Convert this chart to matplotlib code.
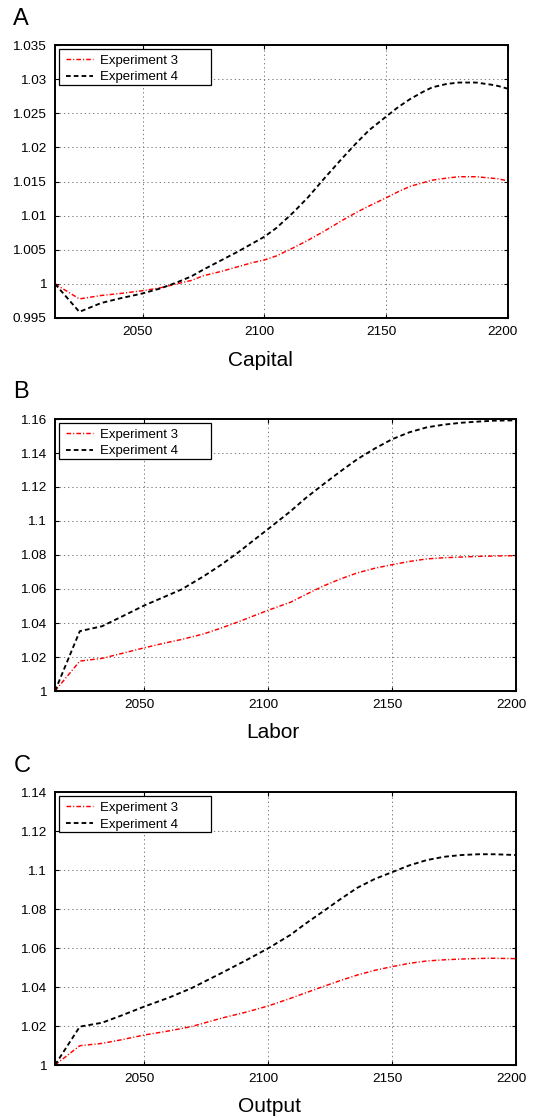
import matplotlib
matplotlib.use("Agg")
import matplotlib.pyplot as plt
import matplotlib.transforms as mtransforms
from matplotlib.patches import Rectangle
from matplotlib.ticker import FuncFormatter, FixedLocator

plt.rcParams['font.family'] = ['Liberation Sans', 'DejaVu Sans']
plt.rcParams['lines.scale_dashes'] = False

# ---------------- data ----------------
labels = ["Experiment 3", "Experiment 4"]
panel_letters = ["A", "B", "C"]
panel_titles = ["Capital", "Labor", "Output"]

cap_years = [2014, 2024, 2033, 2041, 2050, 2057, 2064, 2070, 2075, 2082, 2089, 2095, 2100, 2105,
             2112, 2118, 2125, 2132, 2138, 2143, 2150, 2155, 2160, 2165, 2169, 2175, 2180, 2187,
             2193, 2196, 2200]
cap_exp3 = [1.0000, 0.9978, 0.9983, 0.9986, 0.9990, 0.9994, 1.0000, 1.0005, 1.0012, 1.0018, 1.0025,
            1.0031, 1.0035, 1.0041, 1.0053, 1.0064, 1.0078, 1.0093, 1.0105, 1.0114, 1.0126, 1.0135,
            1.0143, 1.0148, 1.0152, 1.0155, 1.0157, 1.0157, 1.0155, 1.0154, 1.0151]
cap_exp4 = [1.0000, 0.9959, 0.9972, 0.9979, 0.9986, 0.9993, 1.0002, 1.0011, 1.0021, 1.0034, 1.0047,
            1.0059, 1.0069, 1.0082, 1.0105, 1.0127, 1.0156, 1.0184, 1.0207, 1.0225, 1.0245, 1.0259,
            1.0271, 1.0281, 1.0288, 1.0293, 1.0295, 1.0295, 1.0292, 1.0290, 1.0286]

lab_years = [2014, 2024, 2033, 2041, 2050, 2058, 2065, 2074, 2081, 2088, 2094, 2100, 2109, 2115,
             2122, 2129, 2136, 2143, 2150, 2157, 2164, 2171, 2178, 2185, 2191, 2200]
lab_exp3 = [1.0000, 1.0176, 1.0192, 1.0221, 1.0254, 1.0281, 1.0303, 1.0336, 1.0370, 1.0407, 1.0441,
            1.0475, 1.0522, 1.0566, 1.0616, 1.0658, 1.0695, 1.0722, 1.0743, 1.0762, 1.0777, 1.0784,
            1.0788, 1.0792, 1.0794, 1.0796]
lab_exp4 = [1.0000, 1.0352, 1.0381, 1.0438, 1.0503, 1.0553, 1.0597, 1.0675, 1.0742, 1.0816, 1.0885,
            1.0953, 1.1057, 1.1133, 1.1213, 1.1290, 1.1364, 1.1426, 1.1481, 1.1522, 1.1551, 1.1567,
            1.1578, 1.1585, 1.1590, 1.1592]

out_years = [2014, 2024, 2033, 2041, 2050, 2060, 2069, 2081, 2091, 2100, 2109, 2115, 2122, 2129,
             2136, 2143, 2150, 2157, 2164, 2171, 2178, 2185, 2191, 2200]
out_exp3 = [1.0000, 1.0099, 1.0111, 1.0130, 1.0154, 1.0175, 1.0197, 1.0240, 1.0271, 1.0303, 1.0342,
            1.0370, 1.0402, 1.0433, 1.0462, 1.0486, 1.0505, 1.0522, 1.0534, 1.0540, 1.0544, 1.0547,
            1.0548, 1.0546]
out_exp4 = [1.0000, 1.0197, 1.0217, 1.0255, 1.0300, 1.0346, 1.0394, 1.0471, 1.0537, 1.0599, 1.0668,
            1.0725, 1.0787, 1.0850, 1.0910, 1.0955, 1.0990, 1.1025, 1.1052, 1.1069, 1.1078, 1.1082,
            1.1082, 1.1078]

x_ticks = [2050, 2100, 2150, 2200]
cap_yticks = [0.995, 1.0, 1.005, 1.01, 1.015, 1.02, 1.025, 1.03, 1.035]
lab_yticks = [1.0, 1.02, 1.04, 1.06, 1.08, 1.1, 1.12, 1.14, 1.16]
out_yticks = [1.0, 1.02, 1.04, 1.06, 1.08, 1.1, 1.12, 1.14]

panels = [
    (cap_years, cap_exp3, cap_exp4, cap_yticks),
    (lab_years, lab_exp3, lab_exp4, lab_yticks),
    (out_years, out_exp3, out_exp4, out_yticks),
]

# ---------------- layout ----------------
W, H = 535, 1118
fig = plt.figure(figsize=(W / 100, H / 100), dpi=100)

# axes boxes in pixels (left, top, right, bottom)
boxes = [(55, 45, 507.7, 318), (55, 419, 516, 691), (55, 792.3, 516, 1065)]
letter_pos = [(13.3, 25), (13.6, 398), (13.3, 772.5)]
xlabel_pos = [(260.6, 366.5), (272.5, 738), (269.8, 1112.5)]

def fmt(v, pos):
    return ('%.3f' % v).rstrip('0').rstrip('.')

for i, (yrs, e3, e4, yt) in enumerate(panels):
    l, t, r, b = boxes[i]
    ax = fig.add_axes([l / W, 1 - b / H, (r - l) / W, (b - t) / H])
    ax.plot(yrs, e3, color='#ff0000', lw=1.05, dashes=(3.3, 1.5, 0.8, 1.5), label=labels[0])
    ax.plot(yrs, e4, color='black', lw=1.35, dashes=(3.4, 2.2), label=labels[1])
    ax.set_xlim(2014, 2200)
    ax.set_ylim(yt[0], yt[-1])
    ax.xaxis.set_major_locator(FixedLocator(x_ticks))
    ax.yaxis.set_major_locator(FixedLocator(yt))
    ax.yaxis.set_major_formatter(FuncFormatter(fmt))
    ax.grid(True, color='0.5', lw=0.7, linestyle=(0, (1, 2)))
    ax.tick_params(direction='in', length=3, width=0.8, labelsize=9.7, pad=6.3,
                   top=True, right=True, colors='black')
    ax.tick_params(axis='x', pad=5.5)
    # MATLAB-like slight left shift of x tick labels
    shift = mtransforms.ScaledTranslation(-5 / 100, 0, fig.dpi_scale_trans)
    for lab in ax.get_xticklabels():
        lab.set_transform(lab.get_transform() + shift)
    for s in ax.spines.values():
        s.set_linewidth(1.4)

    aw, ah = r - l, b - t
    # legend frame (pixel offsets from axes top-left)
    fx0, fy0, fw, fh = 4.3, 3.5, 151.4, 36.5
    ax.add_patch(Rectangle((fx0 / aw, 1 - (fy0 + fh) / ah), fw / aw, fh / ah,
                           transform=ax.transAxes, facecolor='white',
                           edgecolor='black', lw=0.9, zorder=4.5))
    leg = ax.legend(loc='upper left', bbox_to_anchor=(10.5 / aw, 1 - 9.5 / ah),
                    frameon=False, fontsize=9.5, borderpad=0, borderaxespad=0,
                    handlelength=2.05, handletextpad=0.6, labelspacing=0.33)
    leg.set_zorder(5)

    fig.text(letter_pos[i][0] / W, 1 - letter_pos[i][1] / H, panel_letters[i],
             fontsize=17, va='baseline', ha='left')
    fig.text(xlabel_pos[i][0] / W, 1 - xlabel_pos[i][1] / H, panel_titles[i],
             fontsize=15, va='baseline', ha='center')

fig.savefig('out.png', dpi=100)
